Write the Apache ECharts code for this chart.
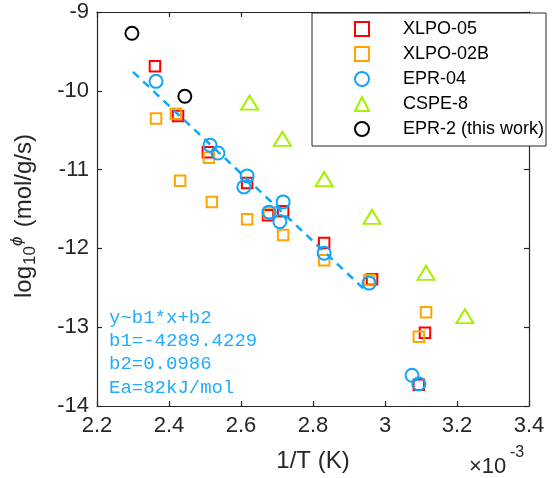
<!DOCTYPE html>
<html><head><meta charset="utf-8">
<script src="https://cdn.jsdelivr.net/npm/echarts@6/dist/echarts.min.js"></script>
<style>html,body{margin:0;padding:0;background:#fff}#c{width:560px;height:478px}</style>
</head><body><div id="c"></div>
<script>
// ---- data (x in units of 1e-3 1/K, y = log10 phi) ----
const seriesNames = ['XLPO-05', 'XLPO-02B', 'EPR-04', 'CSPE-8', 'EPR-2 (this work)'];
const xlpo05X = [2.361, 2.425, 2.508, 2.617, 2.675, 2.717, 2.831, 2.964, 3.111, 3.094];
const xlpo05Y = [-9.69, -10.32, -10.78, -11.17, -11.58, -11.53, -11.93, -12.39, -13.07, -13.73];
const xlpo02bX = [2.364, 2.419, 2.431, 2.511, 2.519, 2.617, 2.678, 2.717, 2.831, 2.956, 3.114, 3.094];
const xlpo02bY = [-10.35, -10.29, -11.14, -10.85, -11.41, -11.63, -11.55, -11.83, -12.15, -12.40, -12.81, -13.12];
const epr04X = [2.364, 2.514, 2.536, 2.617, 2.608, 2.678, 2.717, 2.708, 2.831, 2.956, 3.075, 3.094];
const epr04Y = [-9.88, -10.69, -10.79, -11.08, -11.22, -11.54, -11.41, -11.66, -12.06, -12.44, -13.61, -13.72];
const cspe8X = [2.624, 2.715, 2.831, 2.964, 3.114, 3.222];
const cspe8Y = [-10.15, -10.61, -11.12, -11.60, -12.31, -12.86];
const epr2X = [2.297, 2.444];
const epr2Y = [-9.27, -10.07];
const fitX = [2.30, 2.945];
const fitY = [-9.76, -12.53];
const annotLines = ['y~b1*x+b2', 'b1=-4289.4229', 'b2=0.0986', 'Ea=82kJ/mol'];
const xTitle = '1/T (K)';
const xScaleBase = '\u00d710';
const xScaleExp = '-3';

const zip = (xs, ys) => xs.map((x, i) => [x, ys[i]]);
const FONT = '"Liberation Sans", Arial, Helvetica, sans-serif';
const AX = '#262626';
const colors = ['#ff0000', '#ffa500', '#0ea5ff', '#a6f000', '#000000'];
const symbols = ['rect', 'rect', 'circle', 'triangle', 'circle'];
const sizes = [10.5, 10.5, 13, [17, 14], 13];
const datas = [zip(xlpo05X, xlpo05Y), zip(xlpo02bX, xlpo02bY), zip(epr04X, epr04Y), zip(cspe8X, cspe8Y), zip(epr2X, epr2Y)];

const scatter = seriesNames.map((n, i) => ({
  name: n, type: 'scatter', data: datas[i], symbol: symbols[i], symbolSize: sizes[i],
  itemStyle: { color: 'transparent', borderColor: colors[i], borderWidth: 2, opacity: 1 },
  emphasis: { disabled: true }, z: 3 + i
}));

const chart = echarts.init(document.getElementById('c'), null, { renderer: 'canvas' });
const axisCommon = {
  type: 'value', splitLine: { show: false },
  axisLine: { show: true, onZero: false, lineStyle: { color: AX, width: 1.2 } },
  axisTick: { show: true, inside: true, length: 5, lineStyle: { color: AX, width: 1.2 } }
};
chart.setOption({
  animation: false,
  backgroundColor: '#fff',
  grid: { left: 97, right: 31, top: 12, bottom: 72, containLabel: false },
  xAxis: [
    Object.assign({}, axisCommon, {
      min: 2.2, max: 3.4, interval: 0.2, position: 'bottom',
      axisLabel: { fontSize: 22, color: AX, fontFamily: FONT, margin: 9 },
      name: xTitle, nameLocation: 'middle', nameGap: 43,
      nameTextStyle: { fontSize: 24, color: AX, fontFamily: FONT }
    }),
    Object.assign({}, axisCommon, { min: 2.2, max: 3.4, interval: 0.2, position: 'top', axisLabel: { show: false } })
  ],
  yAxis: [
    Object.assign({}, axisCommon, {
      min: -14, max: -9, interval: 1, position: 'left',
      axisLabel: { fontSize: 22, color: AX, fontFamily: FONT, margin: 8 }
    }),
    Object.assign({}, axisCommon, { min: -14, max: -9, interval: 1, position: 'right', axisLabel: { show: false } })
  ],
  legend: {
    data: seriesNames, orient: 'vertical', left: 312, top: 13,
    padding: [7, 2, 8, 42], itemWidth: 14, itemHeight: 14, itemGap: 7,
    backgroundColor: '#fff', borderColor: AX, borderWidth: 1, borderRadius: 0,
    textStyle: { fontSize: 18, fontFamily: FONT, color: '#000', padding: [0, 0, 0, 29] },
    selectedMode: false
  },
  series: scatter.concat([{
    name: 'fit', type: 'line', data: zip(fitX, fitY), symbol: 'none', silent: true,
    lineStyle: { color: '#0ea5ff', width: 2.5, type: [8, 6] }, z: 10
  }]),
  graphic: [
    {
      type: 'text', left: 109, top: 306, silent: true,
      style: { text: annotLines.join('\n'), fill: '#22aaff', font: '19px "Liberation Mono", "Courier New", monospace', lineHeight: 23.3 }
    },
    { type: 'text', left: 469, top: 456, silent: true, style: { text: xScaleBase, fill: AX, font: '22px ' + FONT } },
    { type: 'text', left: 510, top: 445, silent: true, style: { text: xScaleExp, fill: AX, font: '16px ' + FONT } },
    {
      type: 'group', x: 24, y: 298, rotation: Math.PI / 2, silent: true,
      children: [
        { type: 'text', x: 0, y: 0, style: { text: 'log', fill: AX, font: '24px ' + FONT, textAlign: 'left', textVerticalAlign: 'middle' } },
        { type: 'text', x: 33, y: 6, style: { text: '10', fill: AX, font: '17px ' + FONT, textAlign: 'left', textVerticalAlign: 'middle' } },
        { type: 'text', x: 52, y: -7, style: { text: '\u03d5', fill: AX, font: 'italic 17px ' + FONT, textAlign: 'left', textVerticalAlign: 'middle' } },
        { type: 'text', x: 64, y: 0, style: { text: ' (mol/g/s)', fill: AX, font: '24px ' + FONT, textAlign: 'left', textVerticalAlign: 'middle' } }
      ]
    }
  ]
});
</script></body></html>
